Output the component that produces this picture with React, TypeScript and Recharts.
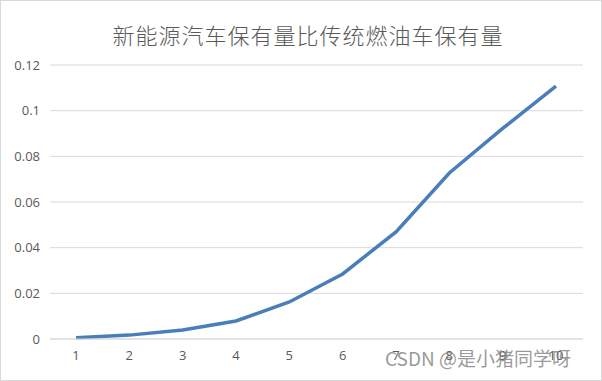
import { LineChart, Line, XAxis, YAxis, CartesianGrid } from "recharts";

const years = ["1", "2", "3", "4", "5", "6", "7", "8", "9", "10"];
const ratio = [0.0005, 0.0017, 0.0039, 0.0079, 0.0162, 0.0285, 0.0469, 0.0727, 0.0922, 0.1107];
const yTicks = [0, 0.02, 0.04, 0.06, 0.08, 0.1, 0.12];

const data = years.map((year, i) => ({ year, ratio: ratio[i] }));

const textColor = "#595959";
const gridColor = "#d9d9d9";

export default function App() {
  return (
    <div
      style={{
        position: "absolute",
        left: 0,
        top: 0,
        width: 602,
        height: 381,
        boxSizing: "border-box",
        border: `1px solid ${gridColor}`,
        background: "#fff",
      }}
    >
      <div
        style={{
          position: "absolute",
          left: 0,
          top: 18,
          width: 614,
          textAlign: "center",
          fontFamily: "'Noto Sans CJK SC', sans-serif",
          fontSize: 22,
          fontWeight: 300,
          letterSpacing: 1,
          color: textColor,
          lineHeight: "30px",
        }}
      >
        新能源汽车保有量比传统燃油车保有量
      </div>
      <div style={{ position: "absolute", left: -1, top: -1 }}>
        <LineChart
          width={602}
          height={381}
          data={data}
          margin={{ top: 65, right: 19, bottom: 12, left: 0 }}
        >
          <CartesianGrid vertical={false} stroke={gridColor} />
          <XAxis
            dataKey="year"
            axisLine={{ stroke: gridColor }}
            tickLine={false}
            tickSize={0}
            tickMargin={12}
            height={30}
            padding={{ left: 26, right: 27 }}
            interval={0}
            tick={{ fill: textColor, fontSize: 13, fontFamily: "'Open Sans', sans-serif" }}
          />
          <YAxis
            domain={[0, 0.12]}
            ticks={yTicks}
            axisLine={false}
            tickLine={false}
            tickSize={0}
            tickMargin={10}
            width={50}
            tick={{ fill: textColor, fontSize: 13, fontFamily: "'Open Sans', sans-serif" }}
          />
          <Line
            dataKey="ratio"
            type="linear"
            stroke="#4a7ebb"
            strokeWidth={3.5}
            dot={false}
            isAnimationActive={false}
          />
        </LineChart>
      </div>
      <div
        style={{
          position: "absolute",
          left: 384,
          top: 343,
          fontFamily: "'Noto Sans CJK SC', sans-serif",
          fontSize: 19,
          color: "rgba(120,120,120,0.75)",
          lineHeight: "28px",
          whiteSpace: "nowrap",
        }}
      >
        CSDN @是小猪同学呀
      </div>
    </div>
  );
}
